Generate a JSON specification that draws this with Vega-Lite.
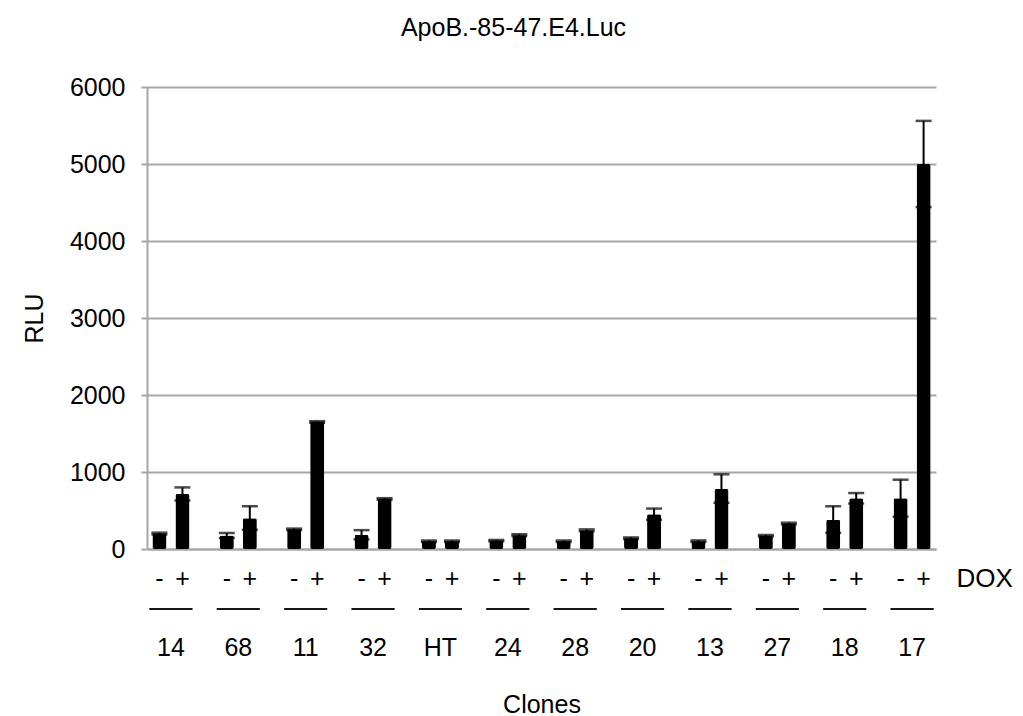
{
  "$schema": "https://vega.github.io/schema/vega-lite/v6.json",
  "autosize": "none",
  "width": 789,
  "height": 462,
  "padding": {"left": 147, "top": 87, "right": 87, "bottom": 167},
  "background": "white",
  "config": {
    "font": "Liberation Sans",
    "view": {"stroke": null},
    "axis": {"labelFont": "Liberation Sans", "titleFont": "Liberation Sans", "labelColor": "black", "titleColor": "black", "titleFontWeight": "normal"}
  },
  "title": {"text": "ApoB.-85-47.E4.Luc", "fontSize": 25, "fontWeight": "normal", "font": "Liberation Sans", "color": "black", "anchor": "middle", "dx": -28, "offset": 34},
  "datasets": {
    "clones": [
      {"clone": "14", "dox": "-", "value": 200, "lo": 188, "hi": 212},
      {"clone": "14", "dox": "+", "value": 715, "lo": 630, "hi": 800},
      {"clone": "68", "dox": "-", "value": 175, "lo": 143, "hi": 208},
      {"clone": "68", "dox": "+", "value": 400, "lo": 250, "hi": 555},
      {"clone": "11", "dox": "-", "value": 255, "lo": 245, "hi": 265},
      {"clone": "11", "dox": "+", "value": 1650, "lo": 1640, "hi": 1660},
      {"clone": "32", "dox": "-", "value": 185, "lo": 125, "hi": 245},
      {"clone": "32", "dox": "+", "value": 650, "lo": 640, "hi": 660},
      {"clone": "HT", "dox": "-", "value": 100, "lo": 90, "hi": 110},
      {"clone": "HT", "dox": "+", "value": 100, "lo": 90, "hi": 110},
      {"clone": "24", "dox": "-", "value": 108, "lo": 98, "hi": 118},
      {"clone": "24", "dox": "+", "value": 180, "lo": 170, "hi": 192},
      {"clone": "28", "dox": "-", "value": 100, "lo": 90, "hi": 110},
      {"clone": "28", "dox": "+", "value": 240, "lo": 230, "hi": 255},
      {"clone": "20", "dox": "-", "value": 140, "lo": 130, "hi": 150},
      {"clone": "20", "dox": "+", "value": 450, "lo": 380, "hi": 525},
      {"clone": "13", "dox": "-", "value": 100, "lo": 90, "hi": 112},
      {"clone": "13", "dox": "+", "value": 780, "lo": 600, "hi": 970},
      {"clone": "27", "dox": "-", "value": 170, "lo": 160, "hi": 182},
      {"clone": "27", "dox": "+", "value": 330, "lo": 320, "hi": 342},
      {"clone": "18", "dox": "-", "value": 380, "lo": 210, "hi": 555},
      {"clone": "18", "dox": "+", "value": 660, "lo": 590, "hi": 727},
      {"clone": "17", "dox": "-", "value": 660, "lo": 420, "hi": 900},
      {"clone": "17", "dox": "+", "value": 5000, "lo": 4440, "hi": 5560}
    ],
    "doxlabel": [{"clone": "17", "dox": "+", "label": "DOX"}]
  },
  "data": {"name": "clones"},
  "encoding": {
    "x": {
      "field": "clone", "type": "nominal", "sort": null,
      "scale": {"paddingInner": 0.45, "paddingOuter": 0.08},
      "axis": {"title": "Clones", "titleFontSize": 25, "titlePadding": 32, "labelFontSize": 25, "labelAngle": 0, "ticks": false, "labelPadding": 86, "domainColor": "#a6a6a6", "domainWidth": 2, "grid": false}
    }
  },
  "layer": [
    {
      "mark": {"type": "bar", "color": "black", "cornerRadius": 2},
      "encoding": {
        "xOffset": {"field": "dox", "type": "nominal", "sort": null, "scale": {"domain": ["-", "+"], "paddingInner": 0.39, "paddingOuter": 0}},
        "y": {"field": "value", "type": "quantitative", "scale": {"domain": [0, 6000], "nice": false},
          "axis": {"title": "RLU", "titleFontSize": 25, "titlePadding": 22, "labelFontSize": 25, "labelPadding": 16, "format": "d", "values": [0, 1000, 2000, 3000, 4000, 5000, 6000], "tickColor": "#a6a6a6", "tickWidth": 2, "tickSize": 6, "domainColor": "#a6a6a6", "domainWidth": 2, "gridColor": "#a6a6a6", "gridWidth": 2}}
      }
    },
    {
      "mark": {"type": "rule", "color": "black", "strokeWidth": 2},
      "encoding": {"xOffset": {"field": "dox", "type": "nominal", "sort": null}, "y": {"field": "lo", "type": "quantitative"}, "y2": {"field": "hi"}}
    },
    {
      "mark": {"type": "tick", "color": "black", "thickness": 2.5, "size": 16},
      "encoding": {"xOffset": {"field": "dox", "type": "nominal", "sort": null}, "y": {"field": "hi", "type": "quantitative"}}
    },
    {
      "mark": {"type": "tick", "color": "black", "thickness": 2.5, "size": 16},
      "encoding": {"xOffset": {"field": "dox", "type": "nominal", "sort": null}, "y": {"field": "lo", "type": "quantitative"}}
    },
    {
      "mark": {"type": "text", "fontSize": 25, "font": "Liberation Sans", "color": "black", "baseline": "middle"},
      "encoding": {"xOffset": {"field": "dox", "type": "nominal", "sort": null}, "y": {"datum": -390}, "text": {"field": "dox"}}
    },
    {
      "mark": {"type": "tick", "color": "black", "thickness": 2, "size": 43},
      "encoding": {"y": {"datum": -779}}
    },
    {
      "data": {"name": "doxlabel"},
      "mark": {"type": "text", "fontSize": 26, "font": "Liberation Sans", "color": "black", "baseline": "middle", "align": "left", "dx": 33},
      "encoding": {"xOffset": {"field": "dox", "type": "nominal", "sort": null}, "y": {"datum": -390}, "text": {"field": "label"}}
    }
  ]
}
